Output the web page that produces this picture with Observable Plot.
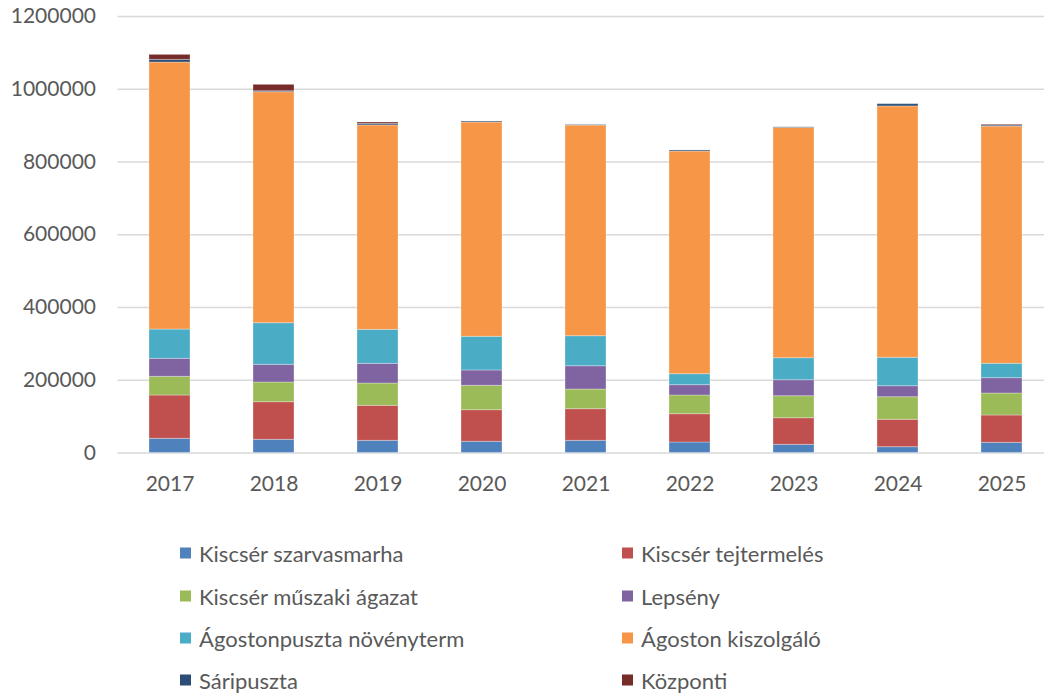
<!DOCTYPE html>
<html>
<head>
<meta charset="utf-8">
<script src="https://cdn.jsdelivr.net/npm/d3@7"></script>
<script src="https://cdn.jsdelivr.net/npm/@observablehq/plot@0.6"></script>
<style>
  body { margin: 0; background: white; }
  #wrap { position: relative; width: 1044px; height: 694px; overflow: hidden; font-family: Lato, sans-serif; }
  #legend { position: absolute; left: 0; top: 0; width: 1044px; height: 694px; pointer-events: none; }
  .item { position: absolute; display: flex; align-items: center; font-size: 22px; color: #595959; white-space: nowrap; transform: translateY(-50%); }
  .sw { width: 11px; height: 11px; margin-right: 8px; }
</style>
</head>
<body>
<div id="wrap">
  <div id="chart"></div>
  <div id="legend"></div>
</div>
<script>
const years = ["2017", "2018", "2019", "2020", "2021", "2022", "2023", "2024", "2025"];
const series = ["Kiscsér szarvasmarha", "Kiscsér tejtermelés", "Kiscsér műszaki ágazat", "Lepsény",
  "Ágostonpuszta növényterm", "Ágoston kiszolgáló", "Sáripuszta", "Központi"];
const colors = ["#4F81BD", "#C0504D", "#9BBB59", "#8064A2", "#4BACC6", "#F79646", "#2C4D75", "#772C2A"];

const szarvasmarha = [39000, 36300, 33500, 30800, 33500, 28900, 22500, 16000, 28000];
const tejtermeles  = [119000, 103400, 96200, 86900, 86900, 77800, 73100, 75300, 75100];
const muszaki      = [51400, 54100, 61300, 67100, 54100, 51400, 60500, 62100, 60500];
const lepseny      = [49500, 48600, 54100, 42100, 64100, 28400, 44000, 30200, 42100];
const novenyterm   = [80500, 114400, 93500, 92600, 82500, 30200, 60500, 78100, 39600];
const kiszolgalo   = [734000, 635000, 562000, 589000, 579000, 612000, 633000, 691000, 652000];
const saripuszta   = [7400, 2700, 4000, 2700, 1500, 3000, 1700, 6300, 3000];
const kozponti     = [13700, 17600, 4000, 0, 0, 0, 0, 0, 2000];

const yTicks = [0, 200000, 400000, 600000, 800000, 1000000, 1200000];

const seriesValues = [szarvasmarha, tejtermeles, muszaki, lepseny, novenyterm, kiszolgalo, saripuszta, kozponti];
const data = [];
years.forEach((yr, i) => series.forEach((s, j) => data.push({year: yr, series: s, value: seriesValues[j][i]})));

const chart = Plot.plot({
  width: 1044,
  height: 510,
  marginTop: 16,
  marginBottom: 57.5,
  marginLeft: 117.5,
  marginRight: 0,
  style: {fontFamily: "Lato, sans-serif", fontSize: "21px", color: "#595959", background: "white"},
  x: {domain: years, range: [117.5, 1053.5], paddingInner: 0.606, paddingOuter: 0.303, label: null},
  y: {domain: [0, 1200000], label: null},
  color: {domain: series, range: colors},
  marks: [
    Plot.gridY(yTicks, {stroke: "#d9d9d9", strokeOpacity: 1, strokeWidth: 1.5}),
    Plot.barY(data, {x: "year", y: "value", fill: "series", stroke: "white", strokeOpacity: 0.3, strokeWidth: 1}),
    Plot.axisY(yTicks, {tickSize: 0, tickPadding: 22, tickFormat: d => String(d), fill: "#595959", label: null}),
    Plot.axisX({tickSize: 0, tickPadding: 23, fill: "#595959", label: null})
  ]
});
document.getElementById("chart").appendChild(chart);

const legend = document.getElementById("legend");
const rowsY = [553, 596, 638, 680];
const colsX = [180, 622];
series.forEach((s, i) => {
  const el = document.createElement("div");
  el.className = "item";
  el.style.left = colsX[i % 2] + "px";
  el.style.top = rowsY[Math.floor(i / 2)] + "px";
  const sw = document.createElement("span");
  sw.className = "sw";
  sw.style.background = colors[i];
  const t = document.createElement("span");
  t.textContent = s;
  el.appendChild(sw);
  el.appendChild(t);
  legend.appendChild(el);
});
</script>
</body>
</html>
